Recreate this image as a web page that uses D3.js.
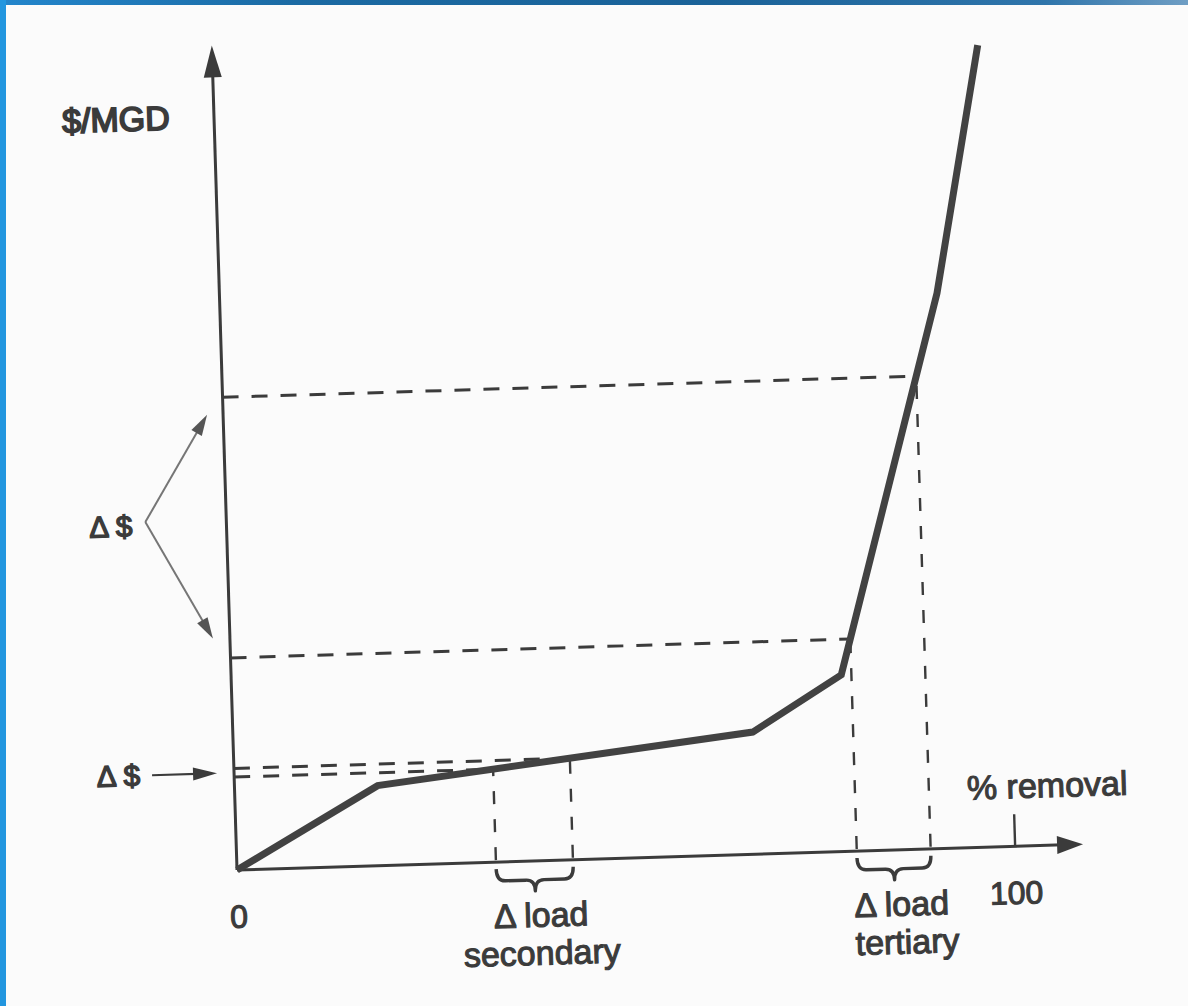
<!DOCTYPE html>
<html><head><meta charset="utf-8">
<script src="https://cdn.jsdelivr.net/npm/d3@7/dist/d3.min.js"></script>
<style>html,body{margin:0;padding:0;background:#fbfbfb;} svg{display:block;}</style>
</head><body>
<script>
// ---- data ----
const removalPct   = [0, 18.4, 66.8, 78.4, 92.2, 98.4];   // % removal
const costPerMGD   = [0, 9.7, 14.8, 21.4, 67.3, 97.2];    // relative $/MGD
const secondaryLoad = [33.3, 43.2];                         // Δ load secondary (% removal)
const tertiaryLoad  = [79.7, 89.2];                         // Δ load tertiary (% removal)
const xTickValues = [0, 100];
const xTickLabels = ["0", "100"];
const yTitle = "$/MGD";
const xTitle = "% removal";
const deltaS = "Δ $";
const deltaLoad = "Δ load";
const stageNames = ["secondary", "tertiary"];
const xAxisMax = 108.8, yAxisMax = 100;

const W = 1188, H = 1006;
const ink = "#3b3b3b", grayInk = "#767676";
const font = "'Liberation Sans', Arial, Helvetica, sans-serif";

const svg = d3.select("body").append("svg").attr("width", W).attr("height", H);
svg.append("rect").attr("width", W).attr("height", H).attr("fill", "#fbfbfb");

// blue frame of the slide
const defs = svg.append("defs");
const gTop = defs.append("linearGradient").attr("id", "topg");
[["0%", "#2386cc"], ["25%", "#1b6aa3"], ["60%", "#1a6298"], ["88%", "#2f75ab"], ["100%", "#6f9ec4"]]
  .forEach(([o, c]) => gTop.append("stop").attr("offset", o).attr("stop-color", c));
svg.append("rect").attr("x", 0).attr("y", 0).attr("width", W).attr("height", 5).attr("fill", "url(#topg)");
svg.append("rect").attr("x", 0).attr("y", 0).attr("width", 6).attr("height", H).attr("fill", "#2296df");

// scales in the (slightly rotated) local frame of the scanned figure
const x = d3.scaleLinear().domain([0, 100]).range([0, 778]);
const y = d3.scaleLinear().domain([0, 100]).range([0, -825]);
const g = svg.append("g").attr("transform", "translate(237,870) rotate(-1.75)");

const costAt = p => {
  const i = Math.max(1, Math.min(removalPct.length - 1, d3.bisectLeft(removalPct, p)));
  const t = (p - removalPct[i - 1]) / (removalPct[i] - removalPct[i - 1]);
  return costPerMGD[i - 1] + t * (costPerMGD[i] - costPerMGD[i - 1]);
};

function arrowHead(sel, x1, y1, x2, y2, len, wid, fill) {
  const a = Math.atan2(y2 - y1, x2 - x1), c = Math.cos(a), s = Math.sin(a);
  const bx = x2 - len * c, by = y2 - len * s;
  sel.append("path")
    .attr("d", `M${x2},${y2} L${bx - wid / 2 * s},${by + wid / 2 * c} L${bx + wid / 2 * s},${by - wid / 2 * c} Z`)
    .attr("fill", fill);
}

// ---- dashed guide lines ----
const dashG = g.append("g").attr("stroke", ink).attr("fill", "none");
[...secondaryLoad, ...tertiaryLoad].forEach(p => {
  const c = costAt(p);
  dashG.append("line").attr("x1", 0).attr("y1", y(c)).attr("x2", x(p)).attr("y2", y(c))
    .attr("stroke-dasharray", "16,13").attr("stroke-width", 3);
  dashG.append("line").attr("x1", x(p)).attr("y1", -2).attr("x2", x(p)).attr("y2", y(c))
    .attr("stroke-dasharray", "13,15").attr("stroke-width", 2.4);
});

// ---- axes ----
g.append("line").attr("x1", 0).attr("y1", 0).attr("x2", x(xAxisMax) - 20).attr("y2", 0)
  .attr("stroke", ink).attr("stroke-width", 3);
arrowHead(g, 0, 0, x(xAxisMax), 0, 26, 18, ink);
g.append("line").attr("x1", 0).attr("y1", 0).attr("x2", 0).attr("y2", y(yAxisMax) + 26)
  .attr("stroke", ink).attr("stroke-width", 3);
arrowHead(g, 0, 0, 0, y(yAxisMax), 32, 18, ink);

const xAxis = d3.axisBottom(x).tickValues(xTickValues)
  .tickFormat((d, i) => xTickLabels[i]).tickSizeInner(-31).tickSizeOuter(0).tickPadding(36);
const ax = g.append("g").attr("transform", "translate(0,-1)").call(xAxis);
ax.select(".domain").remove();
ax.selectAll(".tick line").attr("stroke", ink).attr("stroke-width", 2.4)
  .filter(d => d === 0).remove();
ax.selectAll(".tick text").attr("font-family", font).attr("font-size", 32)
  .attr("fill", ink).attr("stroke", ink).attr("stroke-width", 1.1);

// ---- cost curve ----
const line = d3.line().x((d, i) => x(removalPct[i])).y(d => y(d));
g.append("path").datum(costPerMGD).attr("d", line)
  .attr("fill", "none").attr("stroke", "#424242").attr("stroke-width", 7)
  .attr("stroke-linejoin", "miter").attr("stroke-linecap", "butt");

// ---- braces ----
function brace(x0, x1) {
  const m = (x0 + x1) / 2, r = 9, t = 7, b = 19, tip = 30;
  return `M${x0},${t} Q${x0},${b} ${x0 + r},${b} L${m - r},${b} Q${m},${b} ${m},${tip} ` +
         `Q${m},${b} ${m + r},${b} L${x1 - r},${b} Q${x1},${b} ${x1},${t}`;
}
[secondaryLoad, tertiaryLoad].forEach(r => {
  g.append("path").attr("d", brace(x(r[0]), x(r[1])))
    .attr("fill", "none").attr("stroke", ink).attr("stroke-width", 3.4).attr("stroke-linejoin", "round");
});

// ---- text ----
function txt(s, px, py, size, anchor, sw) {
  return g.append("text").attr("x", px).attr("y", py).text(s)
    .attr("font-family", font).attr("font-size", size).attr("text-anchor", anchor || "start")
    .attr("fill", ink).attr("stroke", ink).attr("stroke-width", sw || 1.1);
}
txt(yTitle, -152, y(yAxisMax) + 83, 34, "start", 1.8);
txt(xTitle, x(100) - 46, -48, 34);
const secMid = (x(secondaryLoad[0]) + x(secondaryLoad[1])) / 2 + 5;
txt(deltaLoad, secMid, 66, 34, "middle");
txt(stageNames[0], secMid, 104, 34, "middle");
txt(deltaLoad, x(tertiaryLoad[0]) - 4, 66, 34);
txt(stageNames[1], x(tertiaryLoad[0]) - 4, 104, 34);

// ---- Δ$ annotations ----
const secHi = y(costAt(secondaryLoad[1])), secLo = y(costAt(secondaryLoad[0]));
const secMidY = (secHi + secLo) / 2;
g.append("line").attr("x1", -82).attr("y1", secMidY).attr("x2", -30).attr("y2", secMidY)
  .attr("stroke", ink).attr("stroke-width", 2.2);
arrowHead(g, -82, secMidY, -17, secMidY, 24, 13, ink);
txt(deltaS, -94, secMidY + 10, 30, "end", 1.4);

const terHi = y(costAt(tertiaryLoad[1])), terLo = y(costAt(tertiaryLoad[0]));
const vx = -81, vy = (terHi + terLo) / 2 - 8;
const upTip = [-16, terHi + 17], dnTip = [-17, terLo - 20];
[upTip, dnTip].forEach(tp => {
  const a = Math.atan2(tp[1] - vy, tp[0] - vx);
  g.append("line").attr("x1", vx).attr("y1", vy)
    .attr("x2", tp[0] - 15 * Math.cos(a)).attr("y2", tp[1] - 15 * Math.sin(a))
    .attr("stroke", grayInk).attr("stroke-width", 2);
  arrowHead(g, vx, vy, tp[0], tp[1], 21, 12, "#555");
});
txt(deltaS, -94, vy + 14, 30, "end", 1.4);
</script>
</body></html>
